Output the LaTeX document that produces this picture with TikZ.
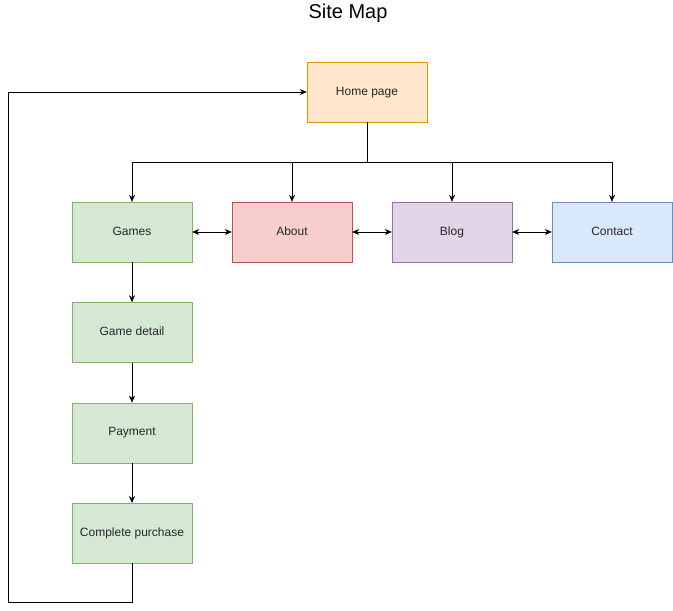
\documentclass[tikz,border=0pt]{standalone}
\usepackage{fontspec}
\setmainfont{Liberation Sans}
\usetikzlibrary{arrows.meta,positioning}
\definecolor{homefill}{HTML}{FFE6CC}\definecolor{homedraw}{HTML}{D79B00}
\definecolor{gamefill}{HTML}{D5E8D4}\definecolor{gamedraw}{HTML}{82B366}
\definecolor{aboutfill}{HTML}{F8CECC}\definecolor{aboutdraw}{HTML}{B85450}
\definecolor{blogfill}{HTML}{E1D5E7}\definecolor{blogdraw}{HTML}{9673A6}
\definecolor{contactfill}{HTML}{DAE8FC}\definecolor{contactdraw}{HTML}{6C8EBF}
\begin{document}
\begin{tikzpicture}[
	x=1pt, y=-1pt,
	page/.style = {draw, rectangle, thin, minimum width=120pt, minimum height=60pt,
		inner sep=0pt, text height=8.7pt, text depth=2.5pt,
		font=\fontsize{12}{14}\selectfont, text=black!85},
	home/.style = {page, fill=homefill, draw=homedraw},
	game/.style = {page, fill=gamefill, draw=gamedraw},
	about/.style = {page, fill=aboutfill, draw=aboutdraw},
	blog/.style = {page, fill=blogfill, draw=blogdraw},
	contact/.style = {page, fill=contactfill, draw=contactdraw},
	link/.style = {-{Stealth[length=7pt,width=6pt]}, semithick},
	both/.style = {{Stealth[length=7pt,width=6pt]}-{Stealth[length=7pt,width=6pt]}, semithick}]
	\useasboundingbox (0,0) rectangle (673,611);
	
	% title and root
	\node[font=\fontsize{20}{24}\selectfont] (title) at (348,13) {Site Map};
	\node[home] (home) at (367,92) {Home page};
	
	% first level, one row
	\node[game] (games) at (132,232) {Games};
	\node[about] (about) at (292,232) {About};
	\node[blog] (blog) at (452,232) {Blog};
	\node[contact] (contact) at (612,232) {Contact};
	
	% game pages, one column
	\node[game, below=40pt of games] (detail) {Game detail};
	\node[game, below=40pt of detail] (payment) {Payment};
	\node[game, below=40pt of payment] (purchase) {Complete purchase};
	
	% lines from the home page to every first level page
	\coordinate (split) at (367,162);
	\foreach \value in {games,about,blog,contact}
	\draw[link] (home.south) -- (split) -| (\value.north);
	
	% links between neighbours
	\draw[both] (games) -- (about);
	\draw[both] (about) -- (blog);
	\draw[both] (blog) -- (contact);
	
	% the buying path
	\draw[link] (games) -- (detail);
	\draw[link] (detail) -- (payment);
	\draw[link] (payment) -- (purchase);
	
	% back to the home page
	\coordinate (low) at (8,602);
	\draw[link] (purchase.south) |- (low) |- (home.west);
\end{tikzpicture}
\end{document}
